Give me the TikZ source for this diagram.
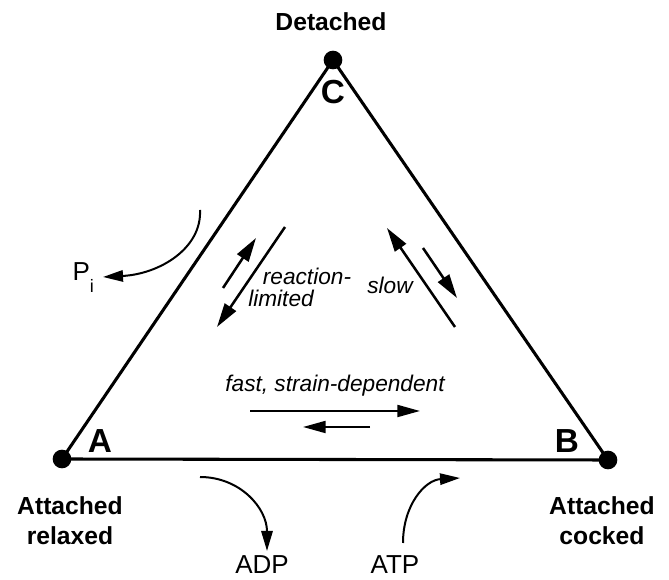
\documentclass[tikz,border=0pt]{standalone}
\usepackage{fontspec}
\setmainfont{Liberation Sans}
\usetikzlibrary{arrows.meta}
\tikzset{
  dot/.style={circle,fill=black,inner sep=0pt,minimum size=14pt},
  side/.style={line width=2.3pt},
  rxn/.style={line width=1.9pt,-{Triangle[length=18pt,width=10pt]}},
  hrxn/.style={line width=1.5pt,-{Triangle[length=17pt,width=9pt]}},
  crv/.style={line width=1.5pt,-{Triangle[length=15pt,width=8.5pt]}},
  state/.style={font=\fontsize{18.5}{22.5}\selectfont\bfseries,align=center,inner sep=0pt},
  corner/.style={font=\fontsize{25}{27}\selectfont\bfseries,inner sep=0pt},
  lbl/.style={font=\fontsize{17}{20}\selectfont\itshape,inner sep=0pt},
  chem/.style={font=\fontsize{19.5}{22}\selectfont,inner sep=0pt}
}
\begin{document}
\begin{tikzpicture}[x=0.75pt,y=-0.75pt]
\useasboundingbox (0,0) rectangle (669,580);
% vertices
\node[dot] (A) at (62,459) {};
\node[dot] (B) at (608,460) {};
\node[dot] (C) at (333,60) {};
\draw[side] (A.center) -- (B.center) -- (C.center) -- cycle;
% corner letters
\node[corner] (la) at (100,441) {A};
\node[corner] (lb) at (567,441) {B};
\node[corner] (lc) at (333,92) {C};
% state labels
\node[state] (det) at (331,22) {Detached};
\node[state] (rel) at (70,521) {Attached\\relaxed};
\node[state] (cock) at (602,521) {Attached\\cocked};
% A <-> C
\coordinate (rl1s) at (285,227); \coordinate (rl1e) at (217,327);
\coordinate (rl2s) at (223,288); \coordinate (rl2e) at (256,238);
\draw[rxn] (rl1s) -- (rl1e);
\draw[rxn] (rl2s) -- (rl2e);
\node[lbl] (rl) at (307,276) {reaction-};
\node[lbl] (lim) at (281,298) {limited};
% C <-> B
\coordinate (sl1s) at (455,327); \coordinate (sl1e) at (387,228);
\coordinate (sl2s) at (423,248); \coordinate (sl2e) at (457,298);
\draw[rxn] (sl1s) -- (sl1e);
\draw[rxn] (sl2s) -- (sl2e);
\node[lbl] (slow) at (390,285) {slow};
% A <-> B
\node[lbl] (fast) at (335,386) {fast, strain-dependent};
\coordinate (f1s) at (250,411); \coordinate (f1e) at (420,411);
\coordinate (f2s) at (370,427); \coordinate (f2e) at (303,427);
\draw[hrxn] (f1s) -- (f1e);
\draw[hrxn] (f2s) -- (f2e);
% Pi
\node[chem,anchor=east] (pi) at (100,278) {P\raisebox{-9pt}{\fontsize{13.5}{14}\selectfont i}\hphantom{i}};
\coordinate (pis) at (200,210);
\coordinate (pie) at (103,277);
\draw[crv] (pis) .. controls (202,248) and (160,274) .. (pie);
% ADP
\node[chem] (adp) at (262,565) {ADP};
\coordinate (adps) at (200,477);
\coordinate (adpe) at (267,551);
\draw[crv] (adps) .. controls (240,477) and (267,508) .. (adpe);
% ATP
\node[chem] (atp) at (395,565) {ATP};
\coordinate (atps) at (403,543);
\coordinate (atpe) at (460,478);
\draw[crv] (atps) .. controls (403,505) and (425,480) .. (atpe);
\end{tikzpicture}
\end{document}
